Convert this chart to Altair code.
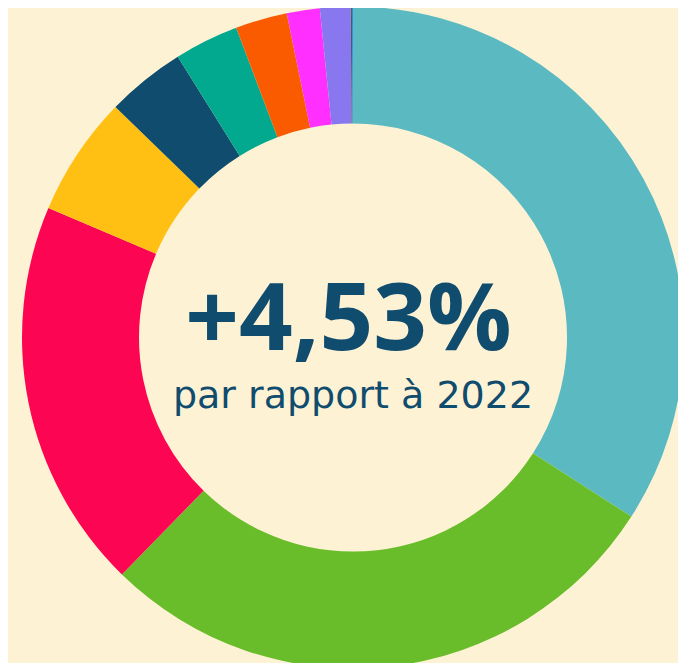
import altair as alt
import pandas as pd

categories = ["A", "B", "C", "D", "E", "F", "G", "H", "I", "J", "K"]
values = [34.1, 28.2, 19.1, 5.86, 3.86, 3.14, 2.53, 1.61, 1.49, 0.06, 0.05]
colors = ["#5BB9C2", "#6ABD2A", "#FC0552", "#FFC013", "#0F4C6E", "#02A98F",
          "#FA5B00", "#FF30FF", "#8877EE", "#4A5A70", "#2E8FD8"]

headline = ["+4,53%"]
subline = ["par rapport à 2022"]

BG = "#FEF2D4"
TXT = "#0F4C6E"

df = pd.DataFrame({"cat": categories, "val": values, "idx": list(range(len(categories)))})

cx, cy = 345, 329.5

donut = alt.Chart(df).mark_arc(outerRadius=331, innerRadius=214, stroke=None).encode(
    theta=alt.Theta("val:Q", stack=True),
    order=alt.Order("idx:Q"),
    color=alt.Color("cat:N", scale=alt.Scale(domain=categories, range=colors), legend=None),
    x=alt.value(cx),
    y=alt.value(cy),
)

t1 = alt.Chart(pd.DataFrame({"t": headline})).mark_text(
    font="Open Sans", fontWeight=700, fontSize=94, color=TXT, baseline="alphabetic", align="center"
).encode(text="t:N", x=alt.value(340.5), y=alt.value(342))

t2 = alt.Chart(pd.DataFrame({"t": subline})).mark_text(
    font="DejaVu Sans", fontWeight=400, fontSize=38, color=TXT, baseline="alphabetic", align="center"
).encode(text="t:N", x=alt.value(345), y=alt.value(400))

chart = alt.layer(donut, t1, t2).properties(
    width=670, height=655, background=BG, padding=0, autosize=alt.AutoSizeParams(type="none")
).configure_view(stroke=None)

chart.save("out.html", embed_options={"renderer": "svg", "actions": False})
